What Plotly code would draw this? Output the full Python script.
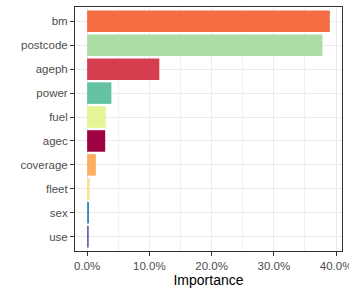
import plotly.graph_objects as go

variables = ["bm", "postcode", "ageph", "power", "fuel", "agec", "coverage", "fleet", "sex", "use"]
importance = [0.390, 0.378, 0.116, 0.039, 0.030, 0.029, 0.014, 0.004, 0.003, 0.0025]
colors = ["#F46D43", "#ABDDA4", "#D53E4F", "#66C2A5", "#E6F598", "#9E0142",
          "#FDAE61", "#FEE08B", "#3288BD", "#5E4FA2"]
x_ticks = [0, 0.1, 0.2, 0.3, 0.4]

fig = go.Figure(go.Bar(
    x=importance, y=variables, orientation="h",
    marker=dict(color=colors, line=dict(width=0)),
    width=0.9,
))

font = "Liberation Sans, Arial, sans-serif"
fig.update_layout(
    width=349, height=292,
    margin=dict(l=75, r=7, t=7, b=41, autoexpand=False),
    plot_bgcolor="white", paper_bgcolor="white",
    showlegend=False,
    font=dict(family=font),
    xaxis=dict(
        range=[-0.0195, 0.4095],
        automargin=False,
        ticklabeloverflow="allow",
        tickvals=x_ticks, tickformat=".1%",
        tickfont=dict(size=11.5, color="#4D4D4D", family=font),
        ticks="outside", ticklen=4, tickcolor="#333333",
        showgrid=True, gridcolor="#EBEBEB", gridwidth=1,
        minor=dict(showgrid=True, tickvals=[0.05, 0.15, 0.25, 0.35], gridcolor="#EBEBEB", gridwidth=0.7),
        showline=True, linecolor="#333333", linewidth=1, mirror=True,
        zeroline=False,
        title=dict(text="Importance", font=dict(size=14, color="black", family=font), standoff=2),
    ),
    yaxis=dict(
        categoryorder="array", categoryarray=variables[::-1],
        range=[-0.6, 9.6],
        automargin=False,
        tickfont=dict(size=11.5, color="#4D4D4D", family=font),
        ticks="outside", ticklen=4, tickcolor="#333333",
        showgrid=True, gridcolor="#EBEBEB", gridwidth=1,
        showline=True, linecolor="#333333", linewidth=1, mirror=True,
        zeroline=False,
    ),
)

fig.write_html(
    "out.html",
    config={"displayModeBar": False, "staticPlot": True},
    post_script="document.body.style.margin='0';document.body.style.overflow='hidden';",
)
